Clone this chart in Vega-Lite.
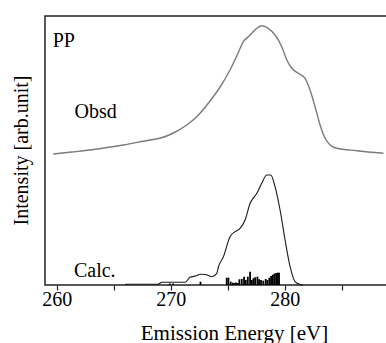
{
  "$schema": "https://vega.github.io/schema/vega-lite/v6.json",
  "width": 342,
  "height": 269,
  "autosize": {"type": "none"},
  "padding": {"left": 45, "top": 16, "right": 0, "bottom": 58},
  "background": "white",
  "config": {
    "view": {"stroke": "#222", "strokeWidth": 1.5},
    "font": "Times New Roman, Liberation Serif, serif"
  },
  "datasets": {
    "obsd": [
      {"E": 259.69, "I": 131}, {"E": 261.3, "I": 133}, {"E": 262.91, "I": 135}, {"E": 265.83, "I": 140},
      {"E": 268.18, "I": 145}, {"E": 269.05, "I": 146.7}, {"E": 270.22, "I": 152}, {"E": 271.39, "I": 160},
      {"E": 272.27, "I": 168.3}, {"E": 273.44, "I": 184}, {"E": 274.32, "I": 198}, {"E": 275.19, "I": 215},
      {"E": 275.92, "I": 232.5}, {"E": 276.36, "I": 243.3}, {"E": 276.8, "I": 248.3}, {"E": 277.1, "I": 251.7},
      {"E": 277.54, "I": 256.7}, {"E": 277.97, "I": 259.3}, {"E": 278.55, "I": 256.7}, {"E": 279.14, "I": 250},
      {"E": 279.73, "I": 238.3}, {"E": 280.17, "I": 225}, {"E": 280.61, "I": 216.7}, {"E": 281.18, "I": 211.7},
      {"E": 281.77, "I": 206.7}, {"E": 282.21, "I": 195}, {"E": 282.65, "I": 178.3}, {"E": 283.09, "I": 160},
      {"E": 283.53, "I": 146.7}, {"E": 283.96, "I": 140}, {"E": 284.55, "I": 136.7}, {"E": 286.31, "I": 134.3},
      {"E": 288.64, "I": 131.7}
    ],
    "calc": [
      {"E": 265.98, "I": 0.8}, {"E": 268.88, "I": 0.8}, {"E": 269.2, "I": 2.7}, {"E": 270.52, "I": 2.7},
      {"E": 271.25, "I": 2.7}, {"E": 271.68, "I": 7.7}, {"E": 272.27, "I": 9.3}, {"E": 272.56, "I": 10.7},
      {"E": 273.0, "I": 10.5}, {"E": 273.59, "I": 8.3}, {"E": 274.03, "I": 11.7}, {"E": 274.17, "I": 18},
      {"E": 274.61, "I": 28.3}, {"E": 275.19, "I": 48.3}, {"E": 275.63, "I": 53.3}, {"E": 276.07, "I": 56.7},
      {"E": 276.51, "I": 65}, {"E": 276.95, "I": 81.7}, {"E": 277.54, "I": 91.7}, {"E": 277.97, "I": 101.7},
      {"E": 278.41, "I": 110}, {"E": 278.76, "I": 110}, {"E": 279.14, "I": 98.3}, {"E": 279.58, "I": 75},
      {"E": 280.02, "I": 45}, {"E": 280.46, "I": 18.3}, {"E": 280.9, "I": 3.3}, {"E": 281.34, "I": 0.5},
      {"E": 281.6, "I": 0}
    ],
    "sticks": [
      {"E": 269.9, "I": 1.5}, {"E": 270.2, "I": 1.5}, {"E": 272.6, "I": 3.3},
      {"E": 274.9, "I": 7.3}, {"E": 275.05, "I": 7.3}, {"E": 275.25, "I": 3.3}, {"E": 275.43, "I": 2.3},
      {"E": 275.57, "I": 2}, {"E": 275.72, "I": 2.5}, {"E": 275.87, "I": 2}, {"E": 276.01, "I": 5.7},
      {"E": 276.22, "I": 6}, {"E": 276.42, "I": 8.3}, {"E": 276.57, "I": 5}, {"E": 276.75, "I": 8.3},
      {"E": 276.95, "I": 13.3}, {"E": 277.1, "I": 5}, {"E": 277.24, "I": 6.7}, {"E": 277.39, "I": 7.7},
      {"E": 277.59, "I": 8.3}, {"E": 277.74, "I": 5.7}, {"E": 277.91, "I": 5}, {"E": 278.11, "I": 4.3},
      {"E": 278.32, "I": 6}, {"E": 278.47, "I": 5}, {"E": 278.64, "I": 7.3}, {"E": 278.79, "I": 9},
      {"E": 278.94, "I": 10.3}, {"E": 279.08, "I": 11.3}, {"E": 279.23, "I": 12}, {"E": 279.38, "I": 12.3},
      {"E": 279.49, "I": 12.3}
    ],
    "labels": [
      {"E": 259.63, "I": 238.3, "label": "PP"},
      {"E": 261.55, "I": 166.7, "label": "Obsd"},
      {"E": 261.5, "I": 8.3, "label": "Calc."}
    ]
  },
  "encoding": {
    "x": {
      "field": "E", "type": "quantitative",
      "scale": {"domain": [258.96, 288.96], "nice": false, "zero": false},
      "axis": {
        "title": "Emission Energy [eV]",
        "values": [260, 265, 270, 275, 280, 285],
        "labelExpr": "datum.value % 10 === 0 ? datum.label : ''",
        "grid": false,
        "domain": false,
        "tickSize": 5, "tickColor": "#222", "tickWidth": 1.2,
        "labelFont": "Times New Roman, Liberation Serif, serif", "labelFontSize": 20, "labelColor": "#000",
        "labelBaseline": "alphabetic", "labelPadding": 15,
        "labelFlush": false, "labelOverlap": false,
        "titleFont": "Times New Roman, Liberation Serif, serif", "titleFontSize": 21, "titleFontWeight": "normal", "titleColor": "#000",
        "titleX": 189, "titleY": 54, "titleBaseline": "alphabetic", "titleAlign": "center"
      }
    },
    "y": {
      "field": "I", "type": "quantitative",
      "scale": {"domain": [0, 269], "nice": false, "zero": false},
      "axis": {
        "title": "Intensity [arb.unit]",
        "grid": false, "domain": false, "ticks": false, "labels": false,
        "titleFont": "Times New Roman, Liberation Serif, serif", "titleFontSize": 20, "titleFontWeight": "normal", "titleColor": "#000",
        "titleAngle": 270, "titleBaseline": "alphabetic", "titleAlign": "center",
        "titleX": -18, "titleY": 134
      }
    }
  },
  "layer": [
    {
      "data": {"name": "obsd"},
      "mark": {"type": "line", "color": "#7a7a7a", "strokeWidth": 1.4, "interpolate": "monotone"}
    },
    {
      "data": {"name": "calc"},
      "mark": {"type": "line", "color": "#1a1a1a", "strokeWidth": 1.1, "interpolate": "monotone"}
    },
    {
      "data": {"name": "sticks"},
      "mark": {"type": "rule", "color": "#000", "strokeWidth": 1.8},
      "encoding": {"y2": {"datum": 0}}
    },
    {
      "data": {"name": "labels"},
      "mark": {"type": "text", "align": "left", "baseline": "alphabetic", "font": "Times New Roman, Liberation Serif, serif", "fontSize": 20, "color": "#000"},
      "encoding": {"text": {"field": "label"}}
    }
  ]
}
